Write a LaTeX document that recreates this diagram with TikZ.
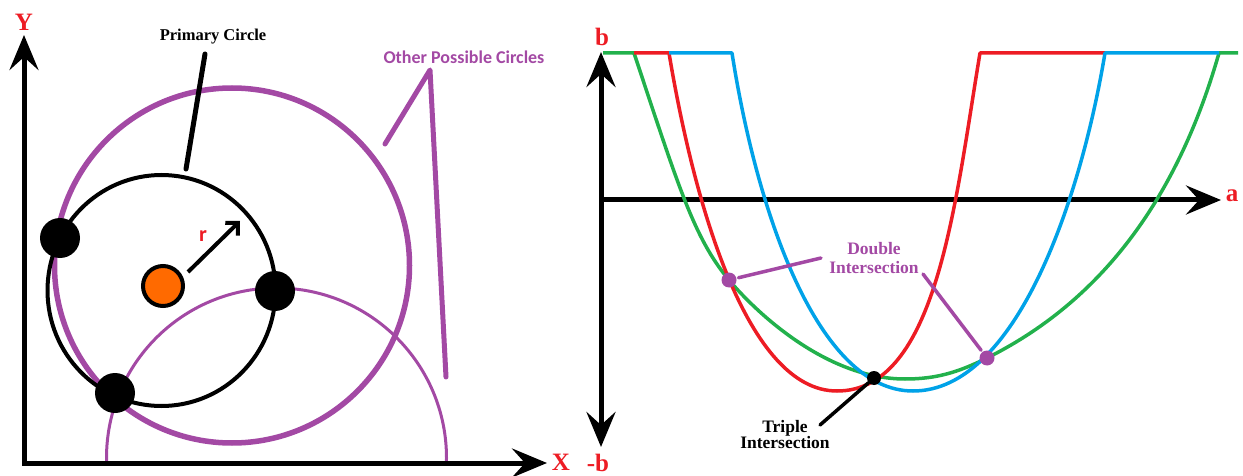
\documentclass[tikz,border=0pt]{standalone}
\usepackage{fontspec}
\newfontfamily\calfont{Carlito}
\newfontfamily\serfont{Liberation Serif}
\usetikzlibrary{arrows.meta}
\definecolor{ppurple}{HTML}{A349A4}
\definecolor{pred}{HTML}{ED1C24}
\definecolor{pblue}{HTML}{00A2E8}
\definecolor{pgreen}{HTML}{22B14C}
\definecolor{porange}{HTML}{FF6A00}
\tikzset{
  axisline/.style={line width=5pt},
  bigtip/.tip={Stealth[length=35pt,width=29pt,inset=13pt]},
  axlbl/.style={text=pred, font=\serfont\bfseries\fontsize{25}{25}\selectfont, inner sep=0pt},
  bdot/.style={circle, fill=black, minimum size=40pt, inner sep=0pt},
  smalldot/.style={circle, minimum size=15pt, inner sep=0pt},
  curve/.style={line width=3.5pt, line join=round},
  lead/.style={line width=5pt, line cap=round, line join=round},
  thinlead/.style={line width=3.5pt, line cap=round},
  serlbl/.style={font=\serfont\bfseries\fontsize{17.5}{19}\selectfont, align=center, inner sep=0pt},
}
\begin{document}
\begin{tikzpicture}[x=1pt,y=-1pt]
\useasboundingbox (0,0) rectangle (1243,476);

% ---------------- left panel ----------------
\begin{scope}
  \clip (0,0) rectangle (1243,463);
  \draw[ppurple, line width=3pt] (276.5,458) circle[radius=170];
\end{scope}
\draw[ppurple, line width=5.5pt] (232,265.5) circle[radius=177.5];
\draw[black, line width=4pt] (161.5,290.5) ellipse[x radius=114, y radius=115.5];

\node[bdot] (d1) at (60,238) {};
\node[bdot] (d2) at (275,291) {};
\node[bdot] (d3) at (115,393) {};
\node[circle, fill=porange, draw=black, line width=4pt, minimum size=40pt, inner sep=0pt] (ctr) at (163,286) {};

\coordinate (rA) at (188,272);
\coordinate (rB) at (240,221);
\draw[line width=4pt, -{Straight Barb[length=9pt,width=18pt]}] (rA) -- (rB);
\node[text=pred, font=\calfont\bfseries\fontsize{22}{22}\selectfont, inner sep=0pt] (rl) at (203,236) {r};

\coordinate (Ytip) at (24,35);
\coordinate (O1) at (24,463);
\coordinate (Xtip) at (547,463);
\draw[axisline, bigtip-bigtip] (Ytip) -- (O1) -- (Xtip);
\node[axlbl] (Ylab) at (24,22) {Y};
\node[axlbl] (Xlab) at (561,462) {X};

\node[font=\serfont\bfseries\fontsize{16.5}{16.5}\selectfont, inner sep=0pt] (pclab) at (213,37) {Primary Circle};
\coordinate (pc1) at (205,54);
\coordinate (pc2) at (186,169);
\draw[lead] (pc1) -- (pc2);

\node[text=ppurple, font=\calfont\bfseries\fontsize{18}{18}\selectfont, inner sep=0pt] (oplab) at (464,57) {Other Possible Circles};
\coordinate (op1) at (385,144);
\coordinate (op2) at (430,70);
\coordinate (op3) at (446,377);
\draw[lead, ppurple] (op1) -- (op2) -- (op3);

% ---------------- right panel ----------------
\coordinate (Btop) at (601,52);
\coordinate (Bbot) at (601,447);
\coordinate (A0) at (601,200);
\coordinate (Atip) at (1221,200);
\draw[axisline, bigtip-bigtip] (Btop) -- (Bbot);
\draw[axisline, -bigtip] (A0) -- (Atip);
\node[axlbl] (blab) at (602,37) {b};
\node[axlbl] (mblab) at (598,463) {-b};
\node[axlbl] (alab) at (1232,196) {a};

% green curve
\draw[curve, pgreen] (603,53) -- (634,53)
  .. controls (679,188) and (694,238) .. (729,280)
  .. controls (754,310) and (825,379) .. (905,379)
  .. controls (935,379) and (957,373) .. (987,358)
  .. controls (1077,313) and (1169,228) .. (1219,53) -- (1238,53);
% red curve
\draw[curve, pred] (634,53) -- (669,53)
  .. controls (694,203) and (747,391) .. (837,391)
  .. controls (937,391) and (955,203) .. (980,53) -- (1105,53);
% blue curve
\draw[curve, pblue] (669,53) -- (732,53)
  .. controls (757,213) and (818,391) .. (913,391)
  .. controls (1015,391) and (1080,203) .. (1105,53) -- (1219,53);

\node[smalldot, fill=ppurple] (p1) at (729,280) {};
\node[smalldot, fill=ppurple] (p2) at (987,358) {};
\node[circle, fill=black, minimum size=14pt, inner sep=0pt] (tp) at (874,378) {};

\node[serlbl, text=ppurple] (dlab) at (874,258) {Double\\Intersection};
\coordinate (dl1) at (821,258);
\coordinate (dl2) at (923,274);
\draw[thinlead, ppurple, shorten <=2pt] (p1) -- (dl1);
\draw[thinlead, ppurple, shorten >=2pt] (dl2) -- (p2);

\node[serlbl, font=\serfont\bfseries\fontsize{17.5}{16}\selectfont] (tlab) at (785,435) {Triple\\Intersection};
\coordinate (tl1) at (820,425);
\draw[line width=3.5pt, line cap=round] (tl1) -- (tp);
\end{tikzpicture}
\end{document}
